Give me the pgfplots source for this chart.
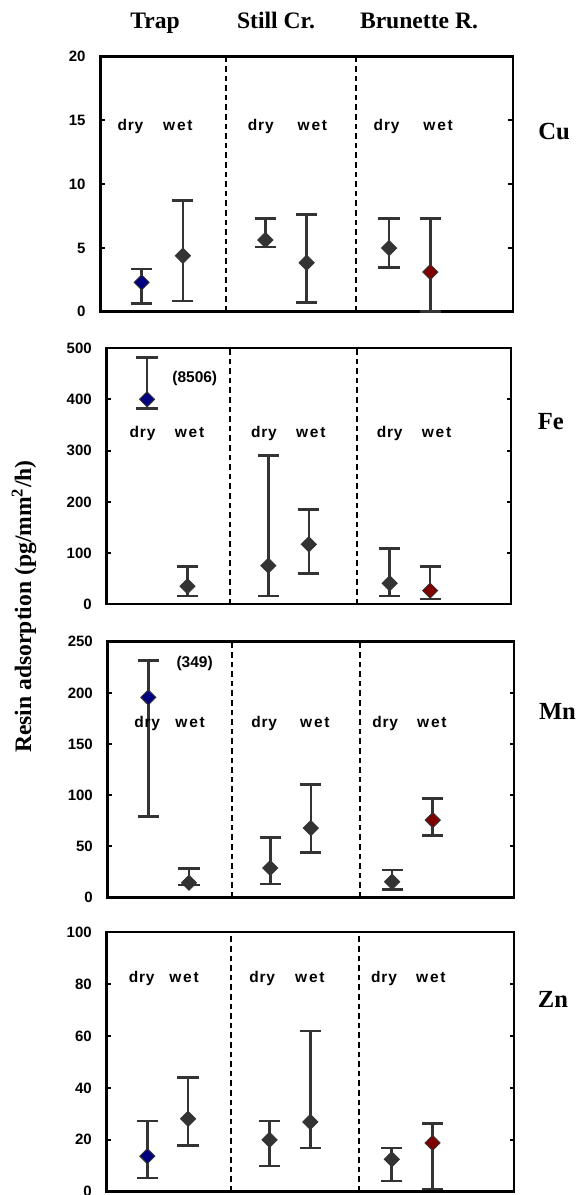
\documentclass[border=0pt]{standalone}
\usepackage{pgfplots}
\pgfplotsset{compat=1.18}
\usepackage{pgfplotstable}
\usepackage{fontspec}
\setmainfont{Liberation Serif}
\newfontfamily\arial{Liberation Sans}
\definecolor{dk}{HTML}{333333}
\definecolor{navyc}{HTML}{000080}
\definecolor{redc}{HTML}{800000}

\pgfplotstableread{
x y ep em
1 2.30 1.05 1.67
2 4.39 4.31 3.55
4 5.62 1.67 0.55
5 3.84 3.79 3.11
7 4.99 2.30 1.54
8 3.11 4.18 3.11
}\cutab
\pgfplotstableread{
x y ep em
1 400.4 81.4 18.4
2 35.2 39.0 18.9
4 75.5 215.5 59.2
5 117.2 68.3 57.3
7 41.0 68.4 24.7
8 26.7 47.5 16.3
}\fetab
\pgfplotstableread{
x y ep em
1 195.6 35.8 116.2
2 14.6 14.0 2.2
4 29.0 29.9 15.7
5 68.0 42.4 23.7
7 15.6 11.4 7.8
8 75.8 21.2 15.3
}\mntab
\pgfplotstableread{
x y ep em
1 13.7 13.6 8.4
2 28.1 16.0 10.3
4 20.0 7.3 10.1
5 26.9 35.1 10.0
7 12.5 4.4 8.4
8 18.8 7.4 17.8
}\zntab

\newcommand{\dry}{d\kern0.4pt r\kern0.4pt y}
\newcommand{\wet}{w\kern0.9pt e\kern0.9pt t}

\pgfplotsset{
  panel/.style={
    scale only axis, anchor=south west,
    xmin=0, xmax=10, xtick=\empty,
    axis line style={line width=1.2pt},
    tick align=inside, major tick length=2.2pt,
    every tick/.style={black, line width=1pt},
    yticklabel style={font=\arial\bfseries\fontsize{7.5}{9}\selectfont, xshift=-3.9pt},
    /pgf/number format/assume math mode=true,
    clip=false,
  },
  pts/.style={only marks, mark=square*, mark size=2.65pt,
    mark options={rotate=45, fill=#1, draw=black!80, line width=0.5pt},
    error bars/y dir=both, error bars/y explicit,
    error bars/error bar style={line width=1.3pt, dk},
    error bars/error mark options={rotate=90, mark size=5.3pt, line width=1.3pt, dk}},
}
\tikzset{
  sep/.style={black, line width=0.9pt, dash pattern=on 2.8pt off 2pt},
  lab/.style={font=\arial\bfseries\fontsize{7.75}{9}\selectfont, anchor=base},
}

\begin{document}
\begin{tikzpicture}
\path[use as bounding box] (0,0) rectangle (288.5pt,597.5pt);

% Cu
\begin{axis}[panel, at={(50.2pt,441.65pt)}, width=206.2pt, height=127.5pt,
  ymin=0, ymax=20, ytick={0,5,10,15,20}]
\draw[sep] (axis cs:3.05,0) -- (axis cs:3.05,20);
\draw[sep] (axis cs:6.2,0) -- (axis cs:6.2,20);
\addplot[restrict x to domain=1.5:7.5, pts=dk] table[x=x,y=y,y error plus=ep,y error minus=em]{\cutab};
\addplot[restrict x to domain=0.5:1.5, pts=navyc] table[x=x,y=y,y error plus=ep,y error minus=em]{\cutab};
\addplot[restrict x to domain=7.5:8.5, pts=redc] table[x=x,y=y,y error plus=ep,y error minus=em]{\cutab};
\node[lab] at (axis cs:0.73,14.2) {\dry};
\node[lab] at (axis cs:1.88,14.2) {\wet};
\node[lab] at (axis cs:3.89,14.2) {\dry};
\node[lab] at (axis cs:5.14,14.2) {\wet};
\node[lab] at (axis cs:6.94,14.2) {\dry};
\node[lab] at (axis cs:8.19,14.2) {\wet};
\end{axis}

% Fe
\begin{axis}[panel, at={(53.3pt,295.35pt)}, width=202.2pt, height=128pt,
  ymin=0, ymax=500, ytick={0,100,200,300,400,500}]
\draw[sep] (axis cs:3.05,0) -- (axis cs:3.05,500);
\draw[sep] (axis cs:6.2,0) -- (axis cs:6.2,500);
\addplot[restrict x to domain=1.5:7.5, pts=dk] table[x=x,y=y,y error plus=ep,y error minus=em]{\fetab};
\addplot[restrict x to domain=0.5:1.5, pts=navyc] table[x=x,y=y,y error plus=ep,y error minus=em]{\fetab};
\addplot[restrict x to domain=7.5:8.5, pts=redc] table[x=x,y=y,y error plus=ep,y error minus=em]{\fetab};
\node[lab] at (axis cs:0.89,326) {\dry};
\node[lab] at (axis cs:2.05,326) {\wet};
\node[lab] at (axis cs:3.89,326) {\dry};
\node[lab] at (axis cs:5.05,326) {\wet};
\node[lab] at (axis cs:7.0,326) {\dry};
\node[lab] at (axis cs:8.16,326) {\wet};
\node[font=\arial\bfseries\fontsize{7.75}{9}\selectfont] at (axis cs:2.18,441) {(8506)};
\end{axis}

% Mn
\begin{axis}[panel, at={(53.85pt,148.65pt)}, width=203.15pt, height=128pt,
  ymin=0, ymax=250, ytick={0,50,100,150,200,250}]
\draw[sep] (axis cs:3.05,0) -- (axis cs:3.05,250);
\draw[sep] (axis cs:6.2,0) -- (axis cs:6.2,250);
\addplot[restrict x to domain=1.5:7.5, pts=dk] table[x=x,y=y,y error plus=ep,y error minus=em]{\mntab};
\addplot[restrict x to domain=0.5:1.5, pts=navyc] table[x=x,y=y,y error plus=ep,y error minus=em]{\mntab};
\addplot[restrict x to domain=7.5:8.5, pts=redc] table[x=x,y=y,y error plus=ep,y error minus=em]{\mntab};
\node[lab] at (axis cs:0.97,166.4) {\dry};
\node[lab] at (axis cs:2.03,166.4) {\wet};
\node[lab] at (axis cs:3.85,166.4) {\dry};
\node[lab] at (axis cs:5.1,166.4) {\wet};
\node[lab] at (axis cs:6.83,166.4) {\dry};
\node[lab] at (axis cs:7.98,166.4) {\wet};
\node[font=\arial\bfseries\fontsize{7.75}{9}\selectfont] at (axis cs:2.14,228.8) {(349)};
\end{axis}

% Zn
\begin{axis}[panel, at={(53.3pt,1.65pt)}, width=203.7pt, height=129.7pt,
  ymin=0, ymax=100, ytick={0,20,40,60,80,100}]
\draw[sep] (axis cs:3.05,0) -- (axis cs:3.05,100);
\draw[sep] (axis cs:6.2,0) -- (axis cs:6.2,100);
\addplot[restrict x to domain=1.5:7.5, pts=dk] table[x=x,y=y,y error plus=ep,y error minus=em]{\zntab};
\addplot[restrict x to domain=0.5:1.5, pts=navyc] table[x=x,y=y,y error plus=ep,y error minus=em]{\zntab};
\addplot[restrict x to domain=7.5:8.5, pts=redc] table[x=x,y=y,y error plus=ep,y error minus=em]{\zntab};
\node[lab] at (axis cs:0.86,80.7) {\dry};
\node[lab] at (axis cs:1.9,80.7) {\wet};
\node[lab] at (axis cs:3.82,80.7) {\dry};
\node[lab] at (axis cs:4.99,80.7) {\wet};
\node[lab] at (axis cs:6.81,80.7) {\dry};
\node[lab] at (axis cs:7.96,80.7) {\wet};
\end{axis}

% titles
\begin{scope}[every node/.style={font=\bfseries\fontsize{11.8}{14}\selectfont, inner sep=0pt}]
\node[anchor=base] at (77.5pt,583.35pt) {Trap};
\node[anchor=base] at (138pt,583.35pt) {Still Cr.};
\node[anchor=base] at (209.5pt,583.35pt) {Brunette R.};
\node[rotate=90] at (12pt,294.25pt) {Resin adsorption (pg/mm\textsuperscript{2}/h)};
\end{scope}
\begin{scope}[every node/.style={font=\bfseries\fontsize{12.3}{14}\selectfont, inner sep=0pt, anchor=base west}]
\node at (269pt,527.5pt) {Cu};
\node at (268.75pt,382.5pt) {Fe};
\node at (269.3pt,237.5pt) {Mn};
\node at (268.75pt,93.5pt) {Zn};
\end{scope}
\end{tikzpicture}
\end{document}
